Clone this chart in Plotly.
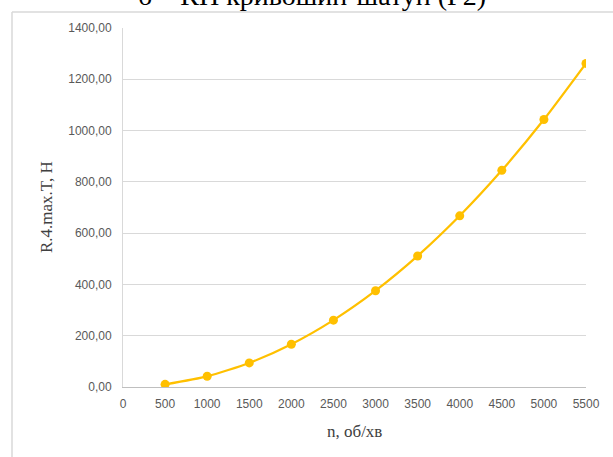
import plotly.graph_objects as go

# Crank speed, rpm
n_rpm = [500, 1000, 1500, 2000, 2500, 3000, 3500, 4000, 4500, 5000, 5500]
# Maximum force R.4.max.T, N
r_max = [10.43, 41.72, 93.87, 166.88, 260.75, 375.48, 511.07, 667.52, 844.83, 1043.0, 1262.03]

x_ticks = list(range(0, 5501, 500))
y_ticks = list(range(0, 1401, 200))

W, H = 613, 457
ML, MR, MT, MB = 123, 27, 28, 70
PW, PH = W - ML - MR, H - MT - MB


def px_x(p):
    return (p - ML) / PW


def px_y(p):
    return (H - MB - p) / PH


gold = "#FFC000"
tick_grey = "#595959"
serif = "Liberation Serif, Times New Roman, serif"

fig = go.Figure(
    go.Scatter(
        x=n_rpm,
        y=r_max,
        mode="lines+markers",
        line=dict(color=gold, width=2.25, shape="spline", smoothing=0.6),
        marker=dict(color=gold, size=9),
        showlegend=False,
    )
)

fig.update_layout(
    width=W,
    height=H,
    margin=dict(l=ML, r=MR, t=MT, b=MB),
    paper_bgcolor="white",
    plot_bgcolor="white",
    separators=", ",
    xaxis=dict(
        range=[0, 5500],
        tickvals=x_ticks,
        tickformat="d",
        showgrid=False,
        zeroline=False,
        showline=True,
        linecolor="#bfbfbf",
        linewidth=1,
        ticks="",
        ticklabelstandoff=6,
        tickfont=dict(family="Liberation Sans", size=12, color=tick_grey),
    ),
    yaxis=dict(
        range=[0, 1400],
        tickvals=y_ticks,
        tickformat=".2f",
        showgrid=True,
        gridcolor="#d9d9d9",
        gridwidth=1,
        zeroline=False,
        showline=True,
        linecolor="#d9d9d9",
        linewidth=1,
        ticks="",
        ticklabelstandoff=8,
        tickfont=dict(family="Liberation Sans", size=12, color=tick_grey),
    ),
    shapes=[
        dict(type="line", xref="paper", yref="paper",
             x0=px_x(12), x1=px_x(12), y0=px_y(12), y1=px_y(H + 2),
             line=dict(color="#d9d9d9", width=1.5)),
        dict(type="line", xref="paper", yref="paper",
             x0=px_x(12), x1=px_x(W + 2), y0=px_y(12), y1=px_y(12),
             line=dict(color="#d9d9d9", width=1.5)),
    ],
    annotations=[
        dict(text="б – КП кривошип-шатун (Р2)", xref="paper", yref="paper",
             x=px_x(312), y=px_y(13), xanchor="center", yanchor="bottom",
             showarrow=False,
             font=dict(family=serif, size=28, color="black")),
        dict(text="R.4.max.T, H", xref="paper", yref="paper",
             x=px_x(46), y=px_y(207), xanchor="center", yanchor="middle",
             textangle=-90, showarrow=False,
             font=dict(family=serif, size=17, color="#404040")),
        dict(text="n, об/хв", xref="paper", yref="paper",
             x=px_x(354), y=px_y(432), xanchor="center", yanchor="middle",
             showarrow=False,
             font=dict(family=serif, size=17, color="#404040")),
    ],
)

fig.write_html("out.html")
